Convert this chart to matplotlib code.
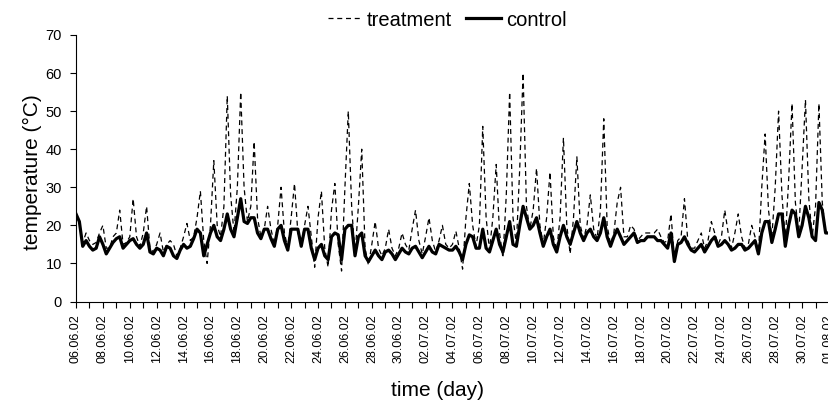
import matplotlib
matplotlib.use('Agg')
import matplotlib.pyplot as plt
import numpy as np

plt.rcParams['font.family'] = ['Liberation Sans', 'DejaVu Sans']

# temperatures, 4 readings per day (0h, 6h, 12h, 18h), 06.06.02 - 01.08.02
control = [
    23, 21, 14.5, 16,      # 06.06
    14.5, 13.5, 14, 17,
    15, 12.5, 14, 15.5,    # 08.06
    16.5, 17, 14, 15,
    16, 16.5, 15, 14,      # 10.06
    15, 18, 13, 12.5,
    14, 13.5, 12, 14.5,    # 12.06
    14, 12, 11.3, 13.5,
    15, 14, 14.5, 16.5,    # 14.06
    19, 18, 12, 15,
    18, 20, 17, 16,        # 16.06
    19, 23, 19, 17,
    22, 27, 21, 20.5,      # 18.06
    22, 22, 18, 16.5,
    19, 19, 16.5, 14.5,    # 20.06
    19, 20, 16, 13.5,
    19, 19, 19, 14.5,      # 22.06
    19, 19, 14, 11,
    14, 15, 12, 11,        # 24.06
    17, 18, 17.5, 11,
    19, 20, 20, 12,        # 26.06
    17, 18, 12, 10.5,
    12, 13.5, 12, 11,      # 28.06
    13, 13.5, 12.5, 11,
    12.5, 14, 13, 12.5,    # 30.06
    14, 14.5, 13, 11.5,
    13, 14.5, 13, 12.5,    # 02.07
    15, 14.5, 14, 13.5,
    13.5, 14.5, 13, 11,    # 04.07
    15, 17.5, 17, 14,
    14, 19, 14, 13,        # 06.07
    16, 19, 15, 13,
    17, 21, 15, 14.5,      # 08.07
    20, 25, 22, 19,
    20, 22, 18, 14.5,      # 10.07
    17, 19, 15, 13,
    17, 20, 17, 15,        # 12.07
    18, 21, 18, 16,
    18, 19, 17, 16,        # 14.07
    18, 22, 17, 14.5,
    17, 19, 17, 15,        # 16.07
    16, 17, 18, 15.5,
    16, 16, 17, 17,        # 18.07
    17, 16, 16, 15,
    14, 18, 10.5, 15,      # 20.07
    15.5, 17, 15, 13.5,
    13, 14, 15, 13,        # 22.07
    14.5, 16, 17, 14.5,
    15, 16, 15, 13.5,      # 24.07
    14, 15, 15, 13.5,
    14, 15, 16, 12.5,      # 26.07
    18, 21, 21, 15.5,
    19, 23, 23, 14.5,      # 28.07
    20, 24, 23, 17,
    20, 25, 22, 17,        # 30.07
    16, 26, 24, 18,
    18,                    # 01.08
]

treatment = [
    23, 21, 15.5, 18,      # 06.06
    16, 15, 15.5, 18,
    20, 14, 14, 17,        # 08.06
    18, 24, 15, 15.5,
    17, 27, 17, 14.5,      # 10.06
    18, 25, 14, 13,
    15, 18, 13, 15,        # 12.06
    16, 15, 12, 14,
    17, 20.5, 16, 17,      # 14.06
    22, 29, 16, 10,
    20, 37, 20, 17,        # 16.06
    25, 54, 28, 18,
    30, 55, 30, 21,        # 18.06
    25, 42, 22, 17,
    19, 25, 19, 15,        # 20.06
    20, 30, 18, 14,
    22, 31, 18, 15,        # 22.06
    20, 25, 17, 9,
    22, 29, 14, 9,         # 24.06
    24, 31, 15, 8,
    30, 50, 25, 12,        # 26.06
    25, 40, 14, 9.5,
    15, 21, 14, 12,        # 28.06
    14, 19, 14, 12,
    14, 18, 15, 13.5,      # 30.06
    19, 24, 16, 12.5,
    17, 22, 16, 13,        # 02.07
    16, 20, 15, 14,
    15, 18.5, 14, 8.5,     # 04.07
    22, 31, 20, 14.5,
    20, 46, 22, 13.5,      # 06.07
    22, 36, 18, 11.5,
    28, 55, 22, 15,        # 08.07
    35, 60, 25, 19,
    24, 35, 20, 15,        # 10.07
    22, 34, 17, 13.5,
    22, 43, 20, 12.5,      # 12.07
    22, 38, 20, 16.5,
    20, 28, 19, 16.5,      # 14.07
    24, 48, 20, 15,
    18, 26, 30, 17,        # 16.07
    17, 20, 19, 16,
    17, 18, 18, 18,        # 18.07
    18, 19, 17, 15.5,
    16, 23, 11, 16,        # 20.07
    17, 27, 16, 14,
    14, 16, 18, 14,        # 22.07
    16, 21, 18, 15,
    17, 24, 18, 14,        # 24.07
    18, 23, 17, 14,
    15, 20, 17, 12.5,      # 26.07
    30, 44, 24, 17,
    30, 50, 28, 16,        # 28.07
    32, 52, 26, 18,
    35, 53, 27, 17,        # 30.07
    25, 52, 26, 18,
    18,                    # 01.08
]

date_labels = ['06.06.02', '08.06.02', '10.06.02', '12.06.02', '14.06.02',
               '16.06.02', '18.06.02', '20.06.02', '22.06.02', '24.06.02',
               '26.06.02', '28.06.02', '30.06.02', '02.07.02', '04.07.02',
               '06.07.02', '08.07.02', '10.07.02', '12.07.02', '14.07.02',
               '16.07.02', '18.07.02', '20.07.02', '22.07.02', '24.07.02',
               '26.07.02', '28.07.02', '30.07.02', '01.08.02']

t = np.arange(len(control)) / 4.0  # time in days

fig = plt.figure(figsize=(8.29, 4.07), dpi=100)
ax = fig.add_axes([76 / 829, 1 - 301.5 / 407, 753 / 829, 266.5 / 407])

ax.plot(t, treatment, color='black', lw=0.9, dashes=(4, 3), label='treatment')
ax.plot(t, control, color='black', lw=2.3, label='control')

ax.set_xlim(0, 56)
ax.set_ylim(0, 70)
ax.set_yticks(range(0, 71, 10))

n_days = 2 * (len(date_labels) - 1) + 1
ticks = np.arange(n_days)
labels = []
for i in ticks:
    labels.append(date_labels[i // 2] if i % 2 == 0 else '')
ax.set_xticks(ticks)
ax.set_xticklabels(labels, rotation=90, fontsize=9)

for s in ['top', 'right']:
    ax.spines[s].set_visible(False)
for s in ['left', 'bottom']:
    ax.spines[s].set_linewidth(0.8)
ax.tick_params(axis='x', length=4, width=0.8, pad=5)
ax.tick_params(axis='y', length=4, width=0.8, labelsize=10.5, pad=6)

fig.text(438 / 829, 1 - 391 / 407, 'time (day)', ha='center', va='center', fontsize=15)
fig.text(32 / 829, 1 - 172 / 407, 'temperature (°C)', ha='center', va='center',
         rotation=90, fontsize=15)

fig.legend(loc='center', bbox_to_anchor=(447 / 829, 1 - 20 / 407), ncol=2,
           frameon=False, fontsize=14.5, handlelength=1.7, handletextpad=0.25,
           columnspacing=0.7)

fig.savefig('out.png', dpi=100)
